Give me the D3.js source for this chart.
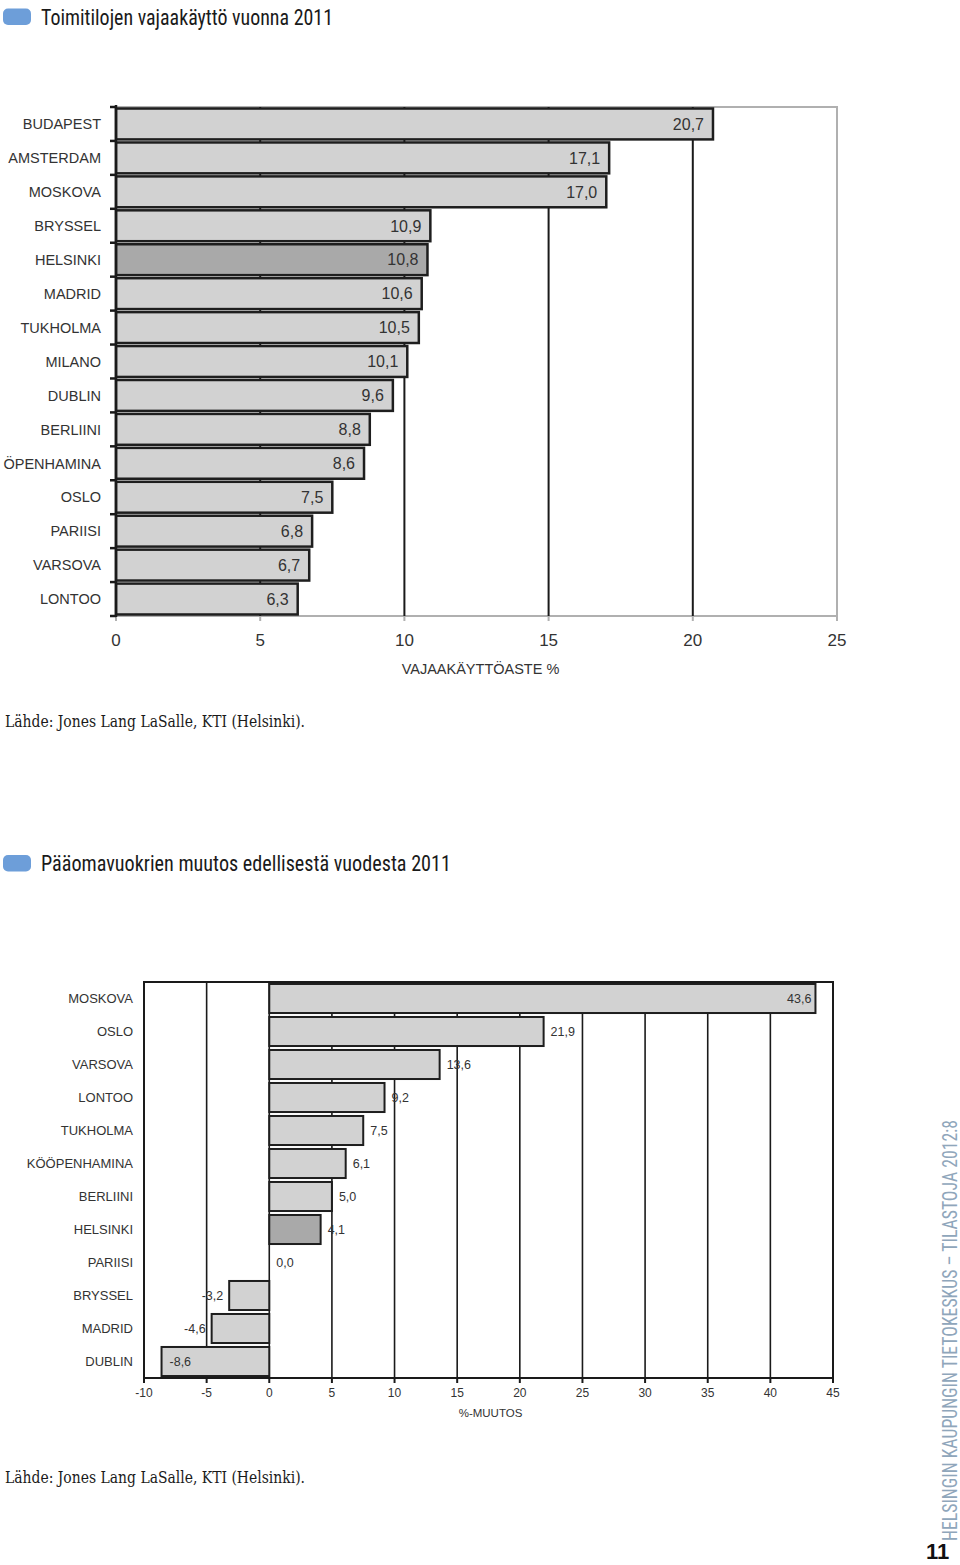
<!DOCTYPE html>
<html><head><meta charset="utf-8">
<script src="https://cdn.jsdelivr.net/npm/d3@7"></script>
<style>html,body{margin:0;padding:0;background:#fff;}svg{display:block;}</style>
</head><body>
<script>
// ---- data ----
const title1 = "Toimitilojen vajaakäyttö vuonna 2011";
const cities1 = ["BUDAPEST","AMSTERDAM","MOSKOVA","BRYSSEL","HELSINKI","MADRID","TUKHOLMA","MILANO","DUBLIN","BERLIINI","ÖPENHAMINA","OSLO","PARIISI","VARSOVA","LONTOO"];
const vacancy = [20.7,17.1,17.0,10.9,10.8,10.6,10.5,10.1,9.6,8.8,8.6,7.5,6.8,6.7,6.3];
const ticks1 = [0,5,10,15,20,25];
const axisTitle1 = "VAJAAKÄYTTÖASTE %";

const title2 = "Pääomavuokrien muutos edellisestä vuodesta 2011";
const cities2 = ["MOSKOVA","OSLO","VARSOVA","LONTOO","TUKHOLMA","KÖÖPENHAMINA","BERLIINI","HELSINKI","PARIISI","BRYSSEL","MADRID","DUBLIN"];
const rentChange = [43.6,21.9,13.6,9.2,7.5,6.1,5.0,4.1,0.0,-3.2,-4.6,-8.6];
const ticks2 = [-10,-5,0,5,10,15,20,25,30,35,40,45];
const axisTitle2 = "%-MUUTOS";

const source = "Lähde: Jones Lang LaSalle, KTI (Helsinki).";
const sideText = "HELSINGIN KAUPUNGIN TIETOKESKUS – TILASTOJA 2012:8";
const pageNo = "11";
const highlight = "HELSINKI";

const fmt = v => v.toFixed(1).replace(".", ",");
const SANS = "'Liberation Sans', Arial, sans-serif";
const NARROW = "'Liberation Sans Narrow', 'Roboto Condensed', Roboto, sans-serif";

const svg = d3.select("body").append("svg").attr("width",960).attr("height",1565);

function header(y, text, len){
  svg.append("rect").attr("x",3).attr("y",y).attr("width",28).attr("height",16.5).attr("rx",5).attr("fill","#6d9ed9");
  svg.append("text").attr("x",41).attr("y",y+16).attr("font-family",NARROW).attr("font-size",22)
    .attr("fill","#1a1a1a").attr("textLength",len).attr("lengthAdjust","spacingAndGlyphs").text(text);
}
function src(y){
  svg.append("text").attr("x",5).attr("y",y).attr("font-family","'DejaVu Serif', 'Liberation Serif', serif")
    .attr("font-size",16.5).attr("fill","#1a1a1a").attr("textLength",300).attr("lengthAdjust","spacingAndGlyphs").text(source);
}

// ================= Chart 1 =================
header(8.5, title1, 292);
const d1 = cities1.map((c,i)=>({c, v:vacancy[i]}));
const x1 = d3.scaleLinear().domain([0,25]).range([116,837]);
const y1 = d3.scaleBand().domain(cities1).range([107,616]).paddingInner(0.09).paddingOuter(0.045);
const g1 = svg.append("g");
g1.append("path").attr("d",`M${x1(0)},${y1.range()[0]}H${x1(25)}V${y1.range()[1]}H${x1(0)}`)
  .attr("fill","none").attr("stroke","#b0b0b0").attr("stroke-width",2);
g1.selectAll(".grid").data(ticks1.filter(t=>t>0&&t<25)).join("line")
  .attr("x1",d=>x1(d)).attr("x2",d=>x1(d)).attr("y1",107).attr("y2",616)
  .attr("stroke","#1a1a1a").attr("stroke-width",2);
g1.selectAll(".bt").data(ticks1).join("line")
  .attr("x1",d=>x1(d)).attr("x2",d=>x1(d)).attr("y1",616).attr("y2",621)
  .attr("stroke","#b0b0b0").attr("stroke-width",2);
g1.selectAll(".bar").data(d1).join("rect")
  .attr("x",x1(0)).attr("y",d=>y1(d.c)).attr("width",d=>x1(d.v)-x1(0)).attr("height",y1.bandwidth())
  .attr("fill",d=>d.c===highlight?"#a9a9a9":"#d2d2d2").attr("stroke","#1e1e1e").attr("stroke-width",2.5);
g1.append("line").attr("x1",x1(0)).attr("x2",x1(0)).attr("y1",105).attr("y2",617).attr("stroke","#1a1a1a").attr("stroke-width",2.5);
const b1 = cities1.map(c=>y1(c)-y1.step()*0.045).concat([616]);
g1.selectAll(".lt").data(b1).join("line")
  .attr("x1",x1(0)-6).attr("x2",x1(0)).attr("y1",d=>d).attr("y2",d=>d)
  .attr("stroke","#1a1a1a").attr("stroke-width",2.5);
g1.selectAll(".vl").data(d1).join("text")
  .attr("x",d=>x1(d.v)-9).attr("y",d=>y1(d.c)+y1.bandwidth()/2).attr("dy","0.36em")
  .attr("text-anchor","end").attr("font-family",SANS).attr("font-size",16).attr("fill","#333").text(d=>fmt(d.v));
g1.selectAll(".cl").data(d1).join("text")
  .attr("x",101).attr("y",d=>y1(d.c)+y1.bandwidth()/2).attr("dy","0.36em")
  .attr("text-anchor","end").attr("font-family",SANS).attr("font-size",14.5).attr("fill","#333").text(d=>d.c);
g1.selectAll(".tl").data(ticks1).join("text")
  .attr("x",d=>x1(d)).attr("y",646).attr("text-anchor","middle")
  .attr("font-family",SANS).attr("font-size",17).attr("fill","#333").text(d=>d);
g1.append("text").attr("x",480.5).attr("y",674).attr("text-anchor","middle")
  .attr("font-family",SANS).attr("font-size",14.5).attr("fill","#333").text(axisTitle1);
src(726.5);

// ================= Chart 2 =================
header(855, title2, 410);
const d2 = cities2.map((c,i)=>({c, v:rentChange[i]}));
const x2 = d3.scaleLinear().domain([-10,45]).range([144,833]);
const y2 = d3.scaleBand().domain(cities2).range([982,1378]).paddingInner(0.12).paddingOuter(0.06);
const g2 = svg.append("g");
g2.selectAll(".grid").data(ticks2.filter(t=>t>-10&&t<45)).join("line")
  .attr("x1",d=>x2(d)).attr("x2",d=>x2(d)).attr("y1",982).attr("y2",1378)
  .attr("stroke","#1a1a1a").attr("stroke-width",1.6);
g2.append("rect").attr("x",x2(-10)).attr("y",982).attr("width",x2(45)-x2(-10)).attr("height",1378-982)
  .attr("fill","none").attr("stroke","#1a1a1a").attr("stroke-width",2);
g2.selectAll(".bt").data(ticks2).join("line")
  .attr("x1",d=>x2(d)).attr("x2",d=>x2(d)).attr("y1",1378).attr("y2",1383)
  .attr("stroke","#1a1a1a").attr("stroke-width",2);
g2.selectAll(".bar").data(d2.filter(d=>d.v!==0)).join("rect")
  .attr("x",d=>x2(Math.min(0,d.v))).attr("y",d=>y2(d.c)).attr("width",d=>Math.abs(x2(d.v)-x2(0))).attr("height",y2.bandwidth())
  .attr("fill",d=>d.c===highlight?"#a9a9a9":"#d2d2d2").attr("stroke","#1e1e1e").attr("stroke-width",2);
g2.selectAll(".vl").data(d2).join("text")
  .each(function(d){
    const t = d3.select(this);
    let x, anchor;
    if (d.v >= 0) {
      if (d.v > 40) { x = x2(d.v)-4; anchor="end"; } else { x = x2(d.v)+7; anchor="start"; }
    } else {
      if (d.v < -6) { x = x2(d.v)+8; anchor="start"; } else { x = x2(d.v)-6; anchor="end"; }
    }
    t.attr("x",x).attr("text-anchor",anchor);
  })
  .attr("y",d=>y2(d.c)+y2.bandwidth()/2).attr("dy","0.36em")
  .attr("font-family",SANS).attr("font-size",12.5).attr("fill","#333").text(d=>fmt(d.v));
g2.selectAll(".cl").data(d2).join("text")
  .attr("x",133).attr("y",d=>y2(d.c)+y2.bandwidth()/2).attr("dy","0.36em")
  .attr("text-anchor","end").attr("font-family",SANS).attr("font-size",13).attr("fill","#333").text(d=>d.c);
g2.selectAll(".tl").data(ticks2).join("text")
  .attr("x",d=>x2(d)).attr("y",1397).attr("text-anchor","middle")
  .attr("font-family",SANS).attr("font-size",12).attr("fill","#333").text(d=>d);
g2.append("text").attr("x",490.5).attr("y",1417).attr("text-anchor","middle")
  .attr("font-family",SANS).attr("font-size",11.5).attr("fill","#333").text(axisTitle2);
src(1482.5);

// side text
svg.append("text").attr("transform","translate(956.5,1541) rotate(-90)")
  .attr("font-family",NARROW).attr("font-size",21).attr("fill","#8fa6bb")
  .attr("textLength",421).attr("lengthAdjust","spacingAndGlyphs").text(sideText);
svg.append("text").attr("x",926).attr("y",1559).attr("font-family",SANS).attr("font-weight","bold")
  .attr("font-size",22).attr("fill","#111").text(pageNo);
</script>
</body></html>
